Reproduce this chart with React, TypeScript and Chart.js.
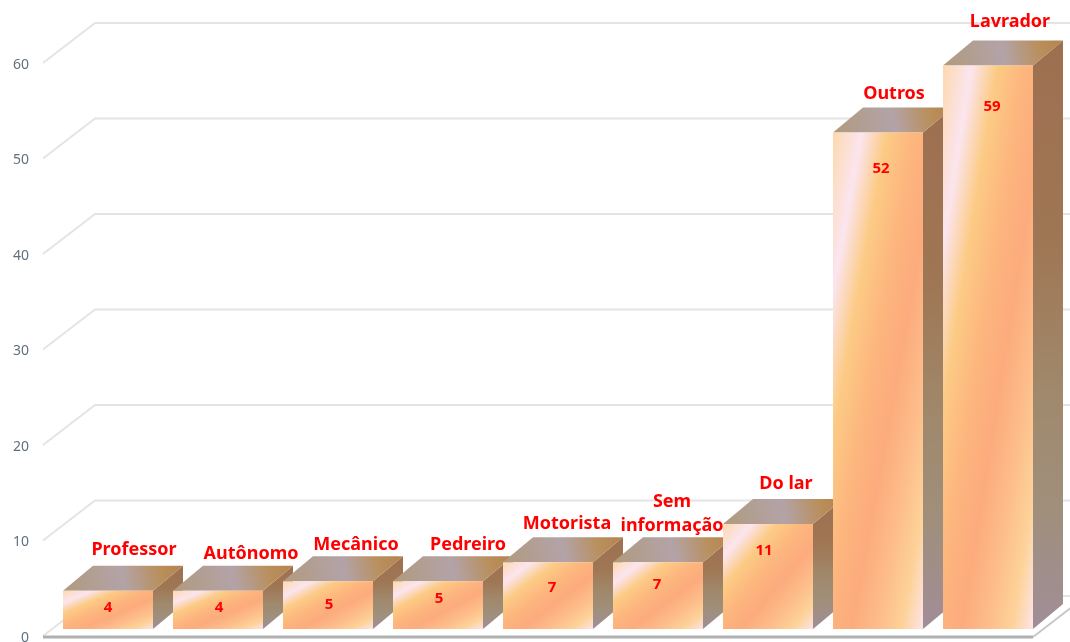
import React, { useEffect, useRef } from "react";
import { Chart, registerables } from "chart.js";

Chart.register(...registerables);

const categories: (string | string[])[] = [
  "Professor", "Autônomo", "Mecânico", "Pedreiro", "Motorista",
  ["Sem", "informação"], "Do lar", "Outros", "Lavrador",
];
const counts = [4, 4, 5, 5, 7, 7, 11, 52, 59];
const yTicks = [0, 10, 20, 30, 40, 50, 60];

// Hand placement of the text relative to each column's front-top centre.
const nameNudge = [[26, -41], [33, -37], [28, -36], [30, -36], [19, -38], [14, -36], [18, -40], [16, -39], [22, -44]];
const valueNudge = [[0, 17], [1, 17], [1, 23], [1, 17], [4, 26], [-1, 23], [-4, 27], [3, 36], [4, 41]];

const BAR_WIDTH = 90;
const CATEGORY_WIDTH = 110;
const BAR_DEPTH_X = 30;
const BAR_DEPTH_Y = 25;
const WALL_DEPTH_X = 52;
const WALL_DEPTH_Y = 40;
const FLOOR_INSET = 7;
const AXIS_OVERHANG = 10;

// Front face: a gradient that follows the column's own proportions, corner to corner.
function frontGradient(ctx: CanvasRenderingContext2D, x: number, top: number, w: number, h: number) {
  const len = w * w + h * h;
  const k = (2 * w * h) / len;
  const g = ctx.createLinearGradient(x, top, x + h * k, top + w * k);
  g.addColorStop(0, "#fdd9ae");
  g.addColorStop(0.16, "#fbe5ef");
  g.addColorStop(0.3, "#fccb85");
  g.addColorStop(0.45, "#fdb67e");
  g.addColorStop(0.6, "#fcab7d");
  g.addColorStop(0.75, "#fdbd8a");
  g.addColorStop(0.88, "#fdd298");
  g.addColorStop(1, "#fde4e8");
  return g;
}

const threeD = {
  id: "threeD",
  beforeDatasetsDraw(chart: any) {
    const { ctx, chartArea, scales } = chart;
    const y = scales.y;
    ctx.save();
    // Back wall and side wall grid
    ctx.lineWidth = 2;
    ctx.strokeStyle = "#e4e4e4";
    for (const t of yTicks) {
      const py = y.getPixelForValue(t);
      const left = chartArea.left - AXIS_OVERHANG;
      ctx.beginPath();
      ctx.moveTo(left, py);
      ctx.lineTo(left + WALL_DEPTH_X, py - WALL_DEPTH_Y);
      ctx.lineTo(chart.width, py - WALL_DEPTH_Y);
      ctx.stroke();
    }
    // Floor edges
    const p0 = y.getPixelForValue(0) + 1;
    const right = chartArea.right - AXIS_OVERHANG;
    ctx.strokeStyle = "#c8c8c8";
    ctx.beginPath();
    ctx.moveTo(right, p0);
    ctx.lineTo(right + WALL_DEPTH_X, p0 - WALL_DEPTH_Y);
    ctx.stroke();
    ctx.lineWidth = 3;
    ctx.strokeStyle = "#b0b0b0";
    ctx.beginPath();
    ctx.moveTo(chartArea.left - AXIS_OVERHANG, p0);
    ctx.lineTo(right, p0);
    ctx.stroke();
    ctx.restore();
  },
  beforeDatasetDraw(chart: any) {
    const { ctx } = chart;
    ctx.save();
    ctx.translate(0, -FLOOR_INSET);
    // Side and top faces go down first, so each front face covers its left neighbour.
    chart.getDatasetMeta(0).data.forEach((bar: any) => {
      const x1 = bar.x + BAR_WIDTH / 2;
      const x0 = bar.x - BAR_WIDTH / 2;
      const top = bar.y;
      const base = bar.base;
      if (![x0, x1, top, base].every(Number.isFinite)) return;

      const side = ctx.createLinearGradient(0, top - BAR_DEPTH_Y, 0, base);
      side.addColorStop(0, "#9d6f50");
      side.addColorStop(0.35, "#9f7755");
      side.addColorStop(0.6, "#a0896c");
      side.addColorStop(0.8, "#a08f7c");
      side.addColorStop(1, "#a08e98");
      ctx.fillStyle = side;
      ctx.beginPath();
      ctx.moveTo(x1, top);
      ctx.lineTo(x1 + BAR_DEPTH_X, top - BAR_DEPTH_Y);
      ctx.lineTo(x1 + BAR_DEPTH_X, base - BAR_DEPTH_Y);
      ctx.lineTo(x1, base);
      ctx.closePath();
      ctx.fill();

      const cap = ctx.createLinearGradient(x0, top, x1 + BAR_DEPTH_X, top - BAR_DEPTH_Y);
      cap.addColorStop(0, "#b09a7d");
      cap.addColorStop(0.5, "#b3a3a8");
      cap.addColorStop(0.8, "#b98f5c");
      cap.addColorStop(1, "#b4834f");
      ctx.fillStyle = cap;
      ctx.beginPath();
      ctx.moveTo(x0, top);
      ctx.lineTo(x0 + BAR_DEPTH_X, top - BAR_DEPTH_Y);
      ctx.lineTo(x1 + BAR_DEPTH_X, top - BAR_DEPTH_Y);
      ctx.lineTo(x1, top);
      ctx.closePath();
      ctx.fill();
    });
  },
  afterDatasetDraw(chart: any) {
    chart.ctx.restore();
  },
  afterDatasetsDraw(chart: any) {
    const { ctx } = chart;
    ctx.save();
    ctx.fillStyle = "#ff0000";
    ctx.textAlign = "center";
    ctx.textBaseline = "middle";
    chart.getDatasetMeta(0).data.forEach((bar: any, i: number) => {
      const top = bar.y - FLOOR_INSET;
      ctx.font = "bold 18px 'Noto Sans'";
      const name = categories[i];
      const lines = Array.isArray(name) ? name : [name];
      const lastY = top + nameNudge[i][1];
      lines.forEach((line, n) => {
        ctx.fillText(line, bar.x + nameNudge[i][0], lastY - (lines.length - 1 - n) * 24);
      });
      ctx.font = "bold 15px 'Noto Sans'";
      ctx.fillText(String(counts[i]), bar.x + valueNudge[i][0], top + valueNudge[i][1]);
    });
    ctx.restore();
  },
};

export default function App() {
  const canvasRef = useRef<HTMLCanvasElement>(null);

  useEffect(() => {
    const chart = new Chart(canvasRef.current!, {
      type: "bar",
      data: {
        labels: categories as any,
        datasets: [
          {
            data: counts,
            clip: false,
            barPercentage: BAR_WIDTH / CATEGORY_WIDTH,
            categoryPercentage: 1,
            backgroundColor: (c: any) => {
              const { x, y } = c.chart.scales;
              const v = counts[c.dataIndex];
              if (v === undefined || !x || !y) return "#fdc88f";
              const left = x.getPixelForValue(c.dataIndex) - BAR_WIDTH / 2;
              const top = y.getPixelForValue(v);
              const h = y.getPixelForValue(0) - top;
              if (!Number.isFinite(left) || !Number.isFinite(top) || !(h > 0)) return "#fdc88f";
              return frontGradient(c.chart.ctx, left, top, BAR_WIDTH, h);
            },
          } as any,
        ],
      },
      options: {
        responsive: false,
        animation: false,
        layout: { padding: { left: 0, right: 27, top: 63, bottom: 6 } },
        plugins: { legend: { display: false }, tooltip: { enabled: false } },
        scales: {
          x: { display: false },
          y: {
            min: 0,
            max: 60,
            afterFit(s: any) {
              s.width = 53;
              s.paddingTop = 0;
              s.paddingBottom = 0;
            },
            border: { display: false },
            grid: { display: false, drawTicks: false },
            ticks: {
              stepSize: 10,
              padding: 24,
              labelOffset: 2,
              color: "#5f7080",
              font: { family: "'Noto Sans'", size: 14 },
            },
          },
        },
      },
      plugins: [threeD],
    } as any);
    return () => chart.destroy();
  }, []);

  return (
    <div style={{ position: "absolute", left: 0, top: 0, width: 1070, height: 642, background: "#ffffff" }}>
      <canvas ref={canvasRef} width={1070} height={642} style={{ display: "block" }} />
    </div>
  );
}
